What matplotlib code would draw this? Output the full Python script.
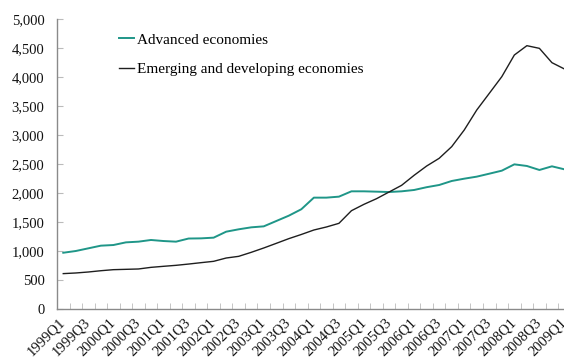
import matplotlib
matplotlib.use("Agg")
import matplotlib.pyplot as plt
from matplotlib.ticker import FuncFormatter, FixedLocator

quarters = [f"{y}Q{q}" for y in range(1999, 2010) for q in range(1, 5)][:41]

advanced = [970, 1000, 1046, 1092, 1103, 1149, 1161, 1190, 1172, 1161,
            1215, 1218, 1230, 1333, 1374, 1408, 1425, 1517, 1609, 1720,
            1920, 1920, 1937, 2029, 2029, 2023, 2017, 2029, 2052, 2100,
            2138, 2207, 2247, 2282, 2333, 2385, 2494, 2466, 2397, 2460,
            2408]

emerging = [610, 621, 638, 660, 678, 684, 690, 718, 736, 753,
            775, 799, 822, 879, 908, 977, 1052, 1132, 1213, 1285,
            1362, 1414, 1477, 1695, 1805, 1902, 2017, 2132, 2305, 2465,
            2598, 2799, 3086, 3431, 3718, 4006, 4379, 4540, 4494, 4247,
            4138]

series_names = ["Advanced economies", "Emerging and developing economies"]
yticks = [0, 500, 1000, 1500, 2000, 2500, 3000, 3500, 4000, 4500, 5000]

plt.rcParams['font.family'] = ['Liberation Serif', 'DejaVu Serif']

W, H = 564, 363
fig = plt.figure(figsize=(W / 100, H / 100), dpi=100)
left, bottom, top = 57, 309, 19
n = len(quarters)
spacing = 12.53
right = left + n * spacing
ax = fig.add_axes([left / W, 1 - bottom / H, (right - left) / W, (bottom - top) / H])

x = list(range(n))
ax.plot(x, advanced, color='#1f9688', lw=1.4, label=series_names[0])
ax.plot(x, emerging, color='#1e1e1e', lw=1.0, label=series_names[1])

ax.set_xlim(-0.5, n - 0.5)
ax.set_ylim(0, 5000)

gray = '#8a8a8a'
for s in ['top', 'right']:
    ax.spines[s].set_visible(False)
for s in ['left', 'bottom']:
    ax.spines[s].set_color(gray)
    ax.spines[s].set_linewidth(1.0)

ax.set_yticks(yticks)
ax.yaxis.set_major_formatter(FuncFormatter(lambda v, p: f"{int(v):,}"))
ax.tick_params(axis='y', direction='in', length=4, color='#bbbbbb', pad=9,
               labelsize=10.5, labelcolor='#111111')

# minor ticks at category boundaries, labels at every second category
ax.xaxis.set_minor_locator(FixedLocator([i - 0.5 for i in range(n + 1)]))
ax.set_xticks(x[::2])
ax.set_xticklabels(quarters[::2], rotation=45, ha='right', va='center',
                   rotation_mode='anchor')
ax.tick_params(axis='x', which='major', length=0, pad=8, labelsize=10.5,
               labelcolor='#111111')
ax.tick_params(axis='x', which='minor', direction='in', length=4, color='#bbbbbb')

leg = fig.legend(loc='upper left', bbox_to_anchor=(119 / W, 1 - 33 / H),
                 frameon=False, fontsize=11, handlelength=0.95,
                 handletextpad=0.25, labelspacing=1.05, borderpad=0,
                 borderaxespad=0)

fig.savefig('out.png', dpi=100)
